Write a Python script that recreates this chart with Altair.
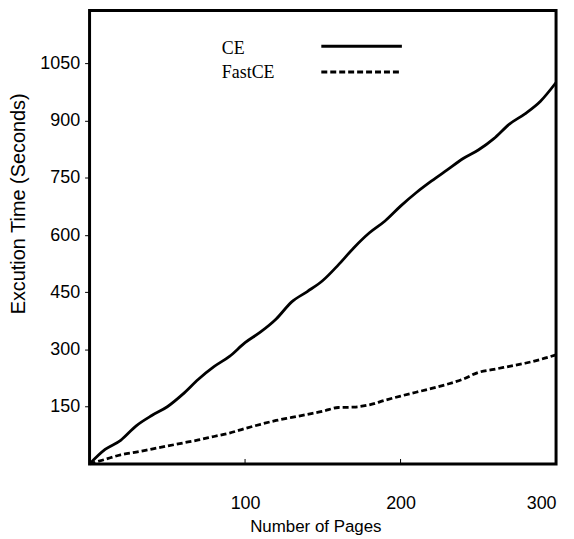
import altair as alt
import pandas as pd

# ---- data ----
pages = [0, 10, 20, 30, 40, 50, 60, 70, 80, 90, 100, 110, 120, 130, 140, 150,
         160, 170, 180, 190, 200, 210, 220, 230, 240, 250, 260, 270, 280, 290, 300]
ce = [0, 38, 62, 100, 127, 150, 183, 222, 255, 282, 318, 346, 380, 425, 452, 481,
      522, 567, 606, 637, 676, 711, 742, 771, 800, 823, 853, 891, 918, 951, 1000]
fastce = [0, 12, 24, 31, 39, 47, 55, 63, 72, 81, 93, 104, 114, 122, 130, 138,
          148, 149, 155, 167, 178, 188, 198, 209, 222, 240, 248, 256, 264, 274, 286]
x_ticks = [100, 200, 300]
y_ticks = [150, 300, 450, 600, 750, 900, 1050]
legend_labels = ["CE", "FastCE"]

W, H = 469, 456
SANS = "Liberation Sans"
SERIF = "Liberation Serif"

df_ce = pd.DataFrame({"pages": pages, "time": ce})
df_fast = pd.DataFrame({"pages": pages, "time": fastce})

x_enc = alt.X(
    "pages:Q",
    scale=alt.Scale(domain=[0, 300], nice=False, zero=True),
    axis=alt.Axis(
        values=x_ticks, ticks=False, domain=False, grid=False, format="d",
        labelFont=SANS, labelFontSize=18, labelColor="black", labelPadding=31,
        title="Number of Pages", titleFont=SANS, titleFontSize=17,
        titleFontWeight="normal", titleColor="black",
        titleX=227, titleY=68, titleAlign="center", titleBaseline="alphabetic",
    ),
)
y_enc = alt.Y(
    "time:Q",
    scale=alt.Scale(domain=[0, 1189], nice=False, zero=True),
    axis=alt.Axis(
        values=y_ticks, ticks=True, tickSize=5, tickWidth=1, tickColor="black",
        domain=False, grid=False, format="d",
        labelFont=SANS, labelFontSize=18, labelColor="black", labelPadding=5,
        title="Excution Time (Seconds)", titleFont=SANS, titleFontSize=20,
        titleFontWeight="normal", titleColor="black", titleAngle=270,
        titleX=-65, titleY=194, titleAlign="center", titleBaseline="alphabetic",
    ),
)

line_ce = alt.Chart(df_ce).mark_line(
    color="black", strokeWidth=2.8, interpolate="monotone"
).encode(x=x_enc, y=y_enc)

line_fast = alt.Chart(df_fast).mark_line(
    color="black", strokeWidth=2.8, strokeDash=[6, 3], interpolate="monotone"
).encode(x=x_enc, y=y_enc)

# inward x ticks
xticks = alt.Chart(pd.DataFrame({"pages": x_ticks})).mark_rule(
    color="black", strokeWidth=1
).encode(x=alt.X("pages:Q"), y=alt.value(H), y2=alt.value(H - 5))

# legend
leg_text_ce = alt.Chart(pd.DataFrame({"label": [legend_labels[0]]})).mark_text(
    font=SERIF, fontSize=18, align="left", baseline="alphabetic", color="black"
).encode(text="label:N", x=alt.value(133), y=alt.value(43.5))
leg_text_fast = alt.Chart(pd.DataFrame({"label": [legend_labels[1]]})).mark_text(
    font=SERIF, fontSize=18, align="left", baseline="alphabetic", color="black"
).encode(text="label:N", x=alt.value(133), y=alt.value(68))

leg_rule_ce = alt.Chart(pd.DataFrame({"label": [legend_labels[0]]})).mark_rule(
    color="black", strokeWidth=3
).encode(x=alt.value(233), x2=alt.value(314), y=alt.value(36))
leg_rule_fast = alt.Chart(pd.DataFrame({"label": [legend_labels[1]]})).mark_rule(
    color="black", strokeWidth=3, strokeDash=[6, 3]
).encode(x=alt.value(233), x2=alt.value(314), y=alt.value(62))

chart = alt.layer(
    line_ce, line_fast, xticks, leg_text_ce, leg_text_fast, leg_rule_ce, leg_rule_fast
).properties(
    width=W, height=H,
    autosize=alt.AutoSizeParams(type="none"),
    padding={"left": 82, "top": 1, "right": 10, "bottom": 70},
    background="white",
).configure_view(
    stroke="black", strokeWidth=3
)

chart.save("out.html", embed_options={"renderer": "svg", "actions": False})
